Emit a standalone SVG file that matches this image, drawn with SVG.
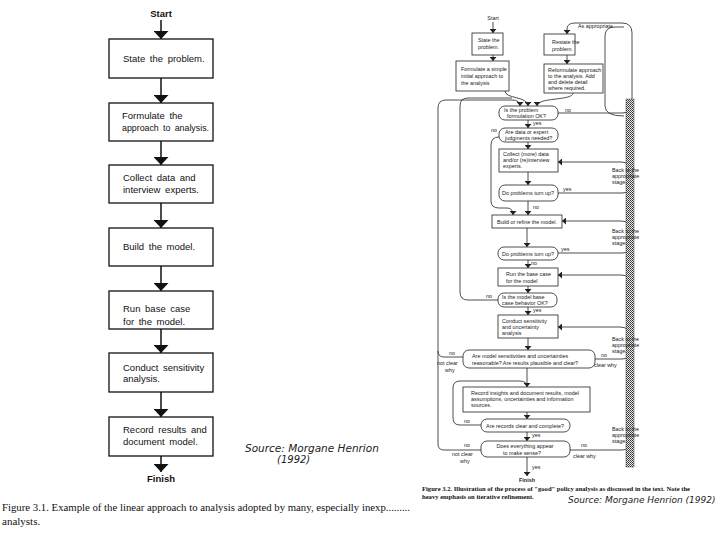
<svg xmlns="http://www.w3.org/2000/svg" width="720" height="540" viewBox="0 0 720 540">
<style>
.bg{fill:#fff}
.lb{fill:#fff;stroke:#111;stroke-width:1.3}
.lt{font-family:"Liberation Sans",Arial,sans-serif;font-size:9.5px;fill:#111;word-spacing:2px}
.lbold{font-family:"Liberation Sans",Arial,sans-serif;font-size:9.5px;font-weight:bold;fill:#111}
.rb{fill:#fff;stroke:#222;stroke-width:0.8}
.rt{font-family:"Liberation Sans",Arial,sans-serif;font-size:5.4px;fill:#222}
.rtb{font-family:"Liberation Sans",Arial,sans-serif;font-size:5.4px;font-weight:bold;fill:#222}
.cap{font-family:"Liberation Serif","Times New Roman",serif;fill:#111}
.hand{font-family:"DejaVu Sans",sans-serif;font-style:italic;fill:#222}
.cl{fill:none;stroke:#111;stroke-width:1.5}
.cr{fill:none;stroke:#222;stroke-width:0.8}
</style>
<defs>
<marker id="ah" viewBox="0 -7.5 8 15" refX="8" refY="0" markerWidth="8" markerHeight="15" markerUnits="userSpaceOnUse" orient="auto"><path d="M0,-7.5 L8,0 L0,7.5 z" fill="#111"/></marker>
<marker id="as" viewBox="0 -3.5 4 7" refX="4" refY="0" markerWidth="4" markerHeight="7" markerUnits="userSpaceOnUse" orient="auto"><path d="M0,-3.5 L4,0 L0,3.5 z" fill="#222"/></marker>
<pattern id="ht" width="2" height="2" patternUnits="userSpaceOnUse"><rect width="2" height="2" fill="#e8e8e8"/><rect width="1" height="1" fill="#333"/><rect x="1" y="1" width="1" height="1" fill="#555"/></pattern>
</defs>
<rect class="bg" width="720" height="540"/>

<!-- LEFT FIGURE -->
<g id="connectors-left">
<path class="cl" d="M161,20 V39" marker-end="url(#ah)"/>
<path class="cl" d="M161,78 V103" marker-end="url(#ah)"/>
<path class="cl" d="M161,141 V165" marker-end="url(#ah)"/>
<path class="cl" d="M161,203 V228" marker-end="url(#ah)"/>
<path class="cl" d="M161,266 V291" marker-end="url(#ah)"/>
<path class="cl" d="M161,329 V353" marker-end="url(#ah)"/>
<path class="cl" d="M161,392 V417" marker-end="url(#ah)"/>
<path class="cl" d="M161,456 V472" marker-end="url(#ah)"/>
</g>
<g id="l-start"><text class="lbold" x="161" y="17" text-anchor="middle">Start</text></g>
<g id="l-state"><rect class="lb" x="109" y="39" width="104" height="39"/><text class="lt" x="123" y="62">State the problem.</text></g>
<g id="l-formulate"><rect class="lb" x="109" y="103" width="104" height="38"/><text class="lt" x="122" y="119">Formulate the</text><text class="lt" x="122" y="131" word-spacing="1" textLength="87" lengthAdjust="spacingAndGlyphs">approach to analysis.</text></g>
<g id="l-collect"><rect class="lb" x="109" y="165" width="104" height="38"/><text class="lt" x="123" y="181">Collect data and</text><text class="lt" x="123" y="193">interview  experts.</text></g>
<g id="l-build"><rect class="lb" x="109" y="228" width="104" height="38"/><text class="lt" x="123" y="250">Build the model.</text></g>
<g id="l-run"><rect class="lb" x="109" y="291" width="104" height="38"/><text class="lt" x="123" y="312" word-spacing="0">Run base case</text><text class="lt" x="123" y="325">for the model.</text></g>
<g id="l-conduct"><rect class="lb" x="109" y="353" width="104" height="39"/><text class="lt" x="123" y="371">Conduct  sensitivity</text><text class="lt" x="123" y="382">analysis.</text></g>
<g id="l-record"><rect class="lb" x="109" y="417" width="104" height="39"/><text class="lt" x="123" y="433">Record results and</text><text class="lt" x="123" y="445">document model.</text></g>
<g id="l-finish"><text class="lbold" x="161" y="482" text-anchor="middle">Finish</text></g>

<text class="hand" x="245" y="452" font-size="10.5">Source: Morgane Henrion</text>
<text class="hand" x="277" y="463" font-size="10">(1992)</text>

<text class="cap" x="2" y="511" font-size="11" textLength="408" lengthAdjust="spacingAndGlyphs">Figure 3.1. Example of the linear approach to analysis adopted by many, especially inexp.........</text>
<text class="cap" x="2" y="525" font-size="11">analysts.</text>

<!-- RIGHT FIGURE -->
<g id="connectors-right">
<path class="cr" d="M493,22 V33" marker-end="url(#as)"/>
<path class="cr" d="M493,55 V61" marker-end="url(#as)"/>
<path class="cr" d="M567,55 V64" marker-end="url(#as)"/>
<path class="cr" d="M505,91 C505,99 528,96 528,106" marker-end="url(#as)"/>
<path class="cr" d="M573,93 C573,101 537,97 537,106" marker-end="url(#as)"/>
<path class="cr" d="M481,450 L444,450 Q438,450 438,444 L438,108 Q438,100 446,100 L512,100 Q520,100 520,106" marker-end="url(#as)"/>
<path class="cr" d="M463,357 L444,357 Q438,357 438,351"/>
<path class="cr" d="M498,300 L468,300 Q460,300 460,292 L460,106 Q460,98 468,98 L512,98"/>
<path class="cr" d="M558,113 L622,113 Q632,113 632,103 L632,33 Q632,23 622,23 L575,23 Q567,23 567,29 L567,34" marker-end="url(#as)"/>
<path class="cr" d="M624,116 Q605,116 605,106 L605,36 Q605,27 615,27 L624,27"/>
<path class="cr" d="M528,120 V128" marker-end="url(#as)"/>
<path class="cr" d="M528,142 V149" marker-end="url(#as)"/>
<path class="cr" d="M499,137 Q491,137 491,145 L491,201 Q491,208 499,208 L507,208 Q513,208 513,215" marker-end="url(#as)"/>
<path class="cr" d="M528,172 V185" marker-end="url(#as)"/>
<path class="cr" d="M528,201 V215" marker-end="url(#as)"/>
<path class="cr" d="M558,193 L622,193 Q630,193 630,185"/>
<path class="cr" d="M630,171 Q630,162 621,162 L558,162" marker-end="url(#as)"/>
<path class="cr" d="M527,228 V247" marker-end="url(#as)"/>
<path class="cr" d="M630,230 Q630,221 621,221 L562,221" marker-end="url(#as)"/>
<path class="cr" d="M558,253 L622,253 Q630,253 630,245"/>
<path class="cr" d="M528,260 V268" marker-end="url(#as)"/>
<path class="cr" d="M630,284 Q630,275 621,275 L558,275" marker-end="url(#as)"/>
<path class="cr" d="M528,286 V293" marker-end="url(#as)"/>
<path class="cr" d="M528,307 V315" marker-end="url(#as)"/>
<path class="cr" d="M630,337 Q630,327 620,327 L558,327" marker-end="url(#as)"/>
<path class="cr" d="M528,338 V350" marker-end="url(#as)"/>
<path class="cr" d="M595,359 L622,359 Q630,359 630,351"/>
<path class="cr" d="M527,368 V387" marker-end="url(#as)"/>
<path class="cr" d="M481,425 L460,425 Q453,425 453,418 L453,388 Q453,381 460,381 L519,381 Q527,381 527,386"/>
<path class="cr" d="M527,412 V419" marker-end="url(#as)"/>
<path class="cr" d="M527,432 V441" marker-end="url(#as)"/>
<path class="cr" d="M570,450 L622,450 Q630,450 630,442"/>
<path class="cr" d="M527,457 V476" marker-end="url(#as)"/>
</g>

<g id="r-bar"><rect x="626" y="99" width="8" height="368" fill="url(#ht)" stroke="#444" stroke-width="0.5"/></g>

<g id="r-start"><text class="rt" x="493" y="20" text-anchor="middle">Start</text></g>
<g id="r-state"><rect class="rb" x="472" y="33" width="31" height="22"/><text class="rt" x="478" y="42">State the</text><text class="rt" x="478" y="49">problem.</text></g>
<g id="r-formulate"><rect class="rb" x="456" y="61" width="53" height="30"/><text class="rt" x="461" y="71">Formulate a simple</text><text class="rt" x="461" y="78">initial approach to</text><text class="rt" x="461" y="85">the analysis</text></g>
<g id="r-restate"><rect class="rb" x="544" y="34" width="31" height="21"/><text class="rt" x="552" y="44">Restate the</text><text class="rt" x="552" y="51">problem.</text></g>
<g id="r-reformulate"><rect class="rb" x="544" y="64" width="59" height="29"/><text class="rt" x="548" y="72">Reformulate approach</text><text class="rt" x="548" y="78">to the analysis. Add</text><text class="rt" x="548" y="84">and delete detail</text><text class="rt" x="548" y="90">where required.</text></g>
<text class="rt" x="578" y="28">As appropriate</text>
<g id="r-isok"><rect class="rb" x="499" y="106" width="59" height="14" rx="6"/><text class="rt" x="504" y="112">Is the problem</text><text class="rt" x="507" y="118">formulation OK?</text></g>
<text class="rt" x="565" y="112">no</text>
<text class="rt" x="533" y="125">yes</text>
<g id="r-data"><rect class="rb" x="499" y="128" width="59" height="14" rx="6"/><text class="rt" x="505" y="134">Are data or expert</text><text class="rt" x="505" y="140">judgments needed?</text></g>
<text class="rt" x="491" y="132">no</text>
<g id="r-collect"><rect class="rb" x="499" y="149" width="59" height="23"/><text class="rt" x="503" y="156">Collect (more) data</text><text class="rt" x="503" y="162">and/or (re)interview</text><text class="rt" x="503" y="168">experts.</text></g>
<g id="r-doprob1"><rect class="rb" x="499" y="185" width="59" height="16" rx="6"/><text class="rt" x="528" y="195" text-anchor="middle">Do problems turn up?</text></g>
<text class="rt" x="563" y="191">yes</text>
<text class="rt" x="533" y="209">no</text>
<g id="r-build"><rect class="rb" x="492" y="215" width="70" height="13"/><text class="rt" x="527" y="223.5" text-anchor="middle">Build or refine the model.</text></g>
<g id="r-doprob2"><rect class="rb" x="498" y="247" width="60" height="13" rx="6"/><text class="rt" x="528" y="255.5" text-anchor="middle">Do problems turn up?</text></g>
<text class="rt" x="561" y="251">yes</text>
<text class="rt" x="531" y="265">no</text>
<g id="r-runbase"><rect class="rb" x="498" y="268" width="60" height="18"/><text class="rt" x="506" y="276">Run the base case</text><text class="rt" x="506" y="283">for the model</text></g>
<g id="r-modelok"><rect class="rb" x="498" y="293" width="59" height="14" rx="6"/><text class="rt" x="502" y="299">Is the model base</text><text class="rt" x="502" y="305">case behavior OK?</text></g>
<text class="rt" x="486" y="298">no</text>
<text class="rt" x="533" y="312">yes</text>
<g id="r-conduct"><rect class="rb" x="498" y="315" width="60" height="23"/><text class="rt" x="502" y="323">Conduct sensitivity</text><text class="rt" x="502" y="329">and uncertainty</text><text class="rt" x="502" y="335">analysis</text></g>
<g id="r-sens"><rect class="rb" x="463" y="350" width="132" height="18" rx="6"/><text class="rt" x="472" y="358">Are model sensitivities and uncertainties</text><text class="rt" x="472" y="365">reasonable? Are results plausible and clear?</text></g>
<text class="rt" x="449" y="355">no</text>
<text class="rt" x="437" y="365">not clear</text>
<text class="rt" x="445" y="372">why</text>
<text class="rt" x="601" y="357">no</text>
<text class="rt" x="594" y="367">clear why</text>
<g id="r-record"><rect class="rb" x="463" y="387" width="127" height="25"/><text class="rt" x="471" y="395">Record insights and document results, model</text><text class="rt" x="471" y="401">assumptions, uncertainties and information</text><text class="rt" x="471" y="407">sources.</text></g>
<g id="r-records"><rect class="rb" x="481" y="419" width="89" height="13" rx="6"/><text class="rt" x="525" y="427.5" text-anchor="middle">Are records clear and complete?</text></g>
<text class="rt" x="464" y="423">no</text>
<text class="rt" x="532" y="437">yes</text>
<g id="r-sense"><rect class="rb" x="481" y="441" width="89" height="16" rx="6"/><text class="rt" x="525" y="448" text-anchor="middle">Does everything appear</text><text class="rt" x="522" y="455" text-anchor="middle">to make sense?</text></g>
<text class="rt" x="464" y="447">no</text>
<text class="rt" x="452" y="456">not clear</text>
<text class="rt" x="460" y="463">why</text>
<text class="rt" x="581" y="447">no</text>
<text class="rt" x="573" y="458">clear why</text>
<text class="rt" x="532" y="469">yes</text>
<g id="r-finish"><text class="rtb" x="527" y="482" text-anchor="middle">Finish</text></g>

<g id="r-back"><text class="rt" x="612" y="172">Back to the</text><text class="rt" x="612" y="178">appropriate</text><text class="rt" x="612" y="184">stage.</text>
<text class="rt" x="612" y="233">Back to the</text><text class="rt" x="612" y="239">appropriate</text><text class="rt" x="612" y="245">stage.</text>
<text class="rt" x="612" y="341">Back to the</text><text class="rt" x="612" y="347">appropriate</text><text class="rt" x="612" y="353">stage.</text>
<text class="rt" x="612" y="431">Back to the</text><text class="rt" x="612" y="437">appropriate</text><text class="rt" x="612" y="443">stage.</text></g>

<text class="cap" x="422" y="491" font-size="6.6" font-weight="bold" textLength="268" lengthAdjust="spacingAndGlyphs">Figure 3.2. Illustration of the process of "good" policy analysis as discussed in the text. Note the</text>
<text class="cap" x="422" y="499" font-size="6.6" font-weight="bold">heavy emphasis on iterative refinement.</text>
<text class="hand" x="568" y="503" font-size="9">Source: Morgane Henrion (1992)</text>
</svg>
